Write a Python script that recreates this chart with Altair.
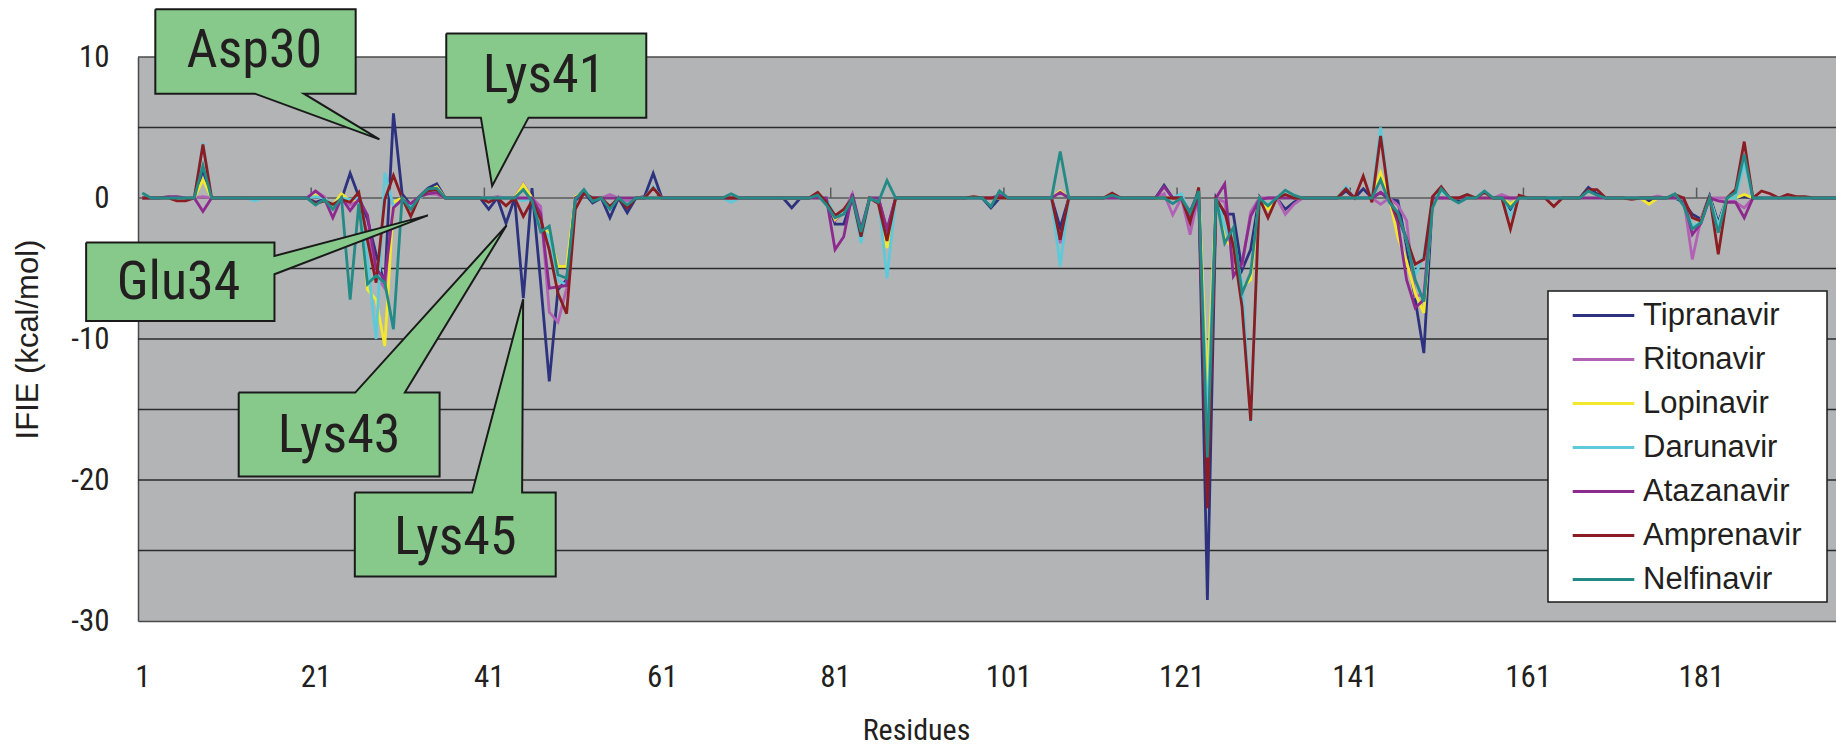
import altair as alt
import pandas as pd

# ---------------- data ----------------
RESIDUES = list(range(1, 199))
SERIES = ["Tipranavir", "Ritonavir", "Lopinavir", "Darunavir",
          "Atazanavir", "Amprenavir", "Nelfinavir"]
COLORS = ["#2D327E", "#B262B4", "#F3E82C", "#5ECAD9",
          "#8C2A8E", "#8A1C22", "#238A86"]

# IFIE (kcal/mol) per residue; residues not listed sit on the zero line
TIPRANAVIR = {8: 2.0, 21: -0.3, 22: -0.1, 23: -0.5, 24: -0.1, 25: 1.75, 26: 0.1, 27: -1.5,
              28: -4.0, 29: -6.1, 30: 6.0, 31: 0.3, 32: -0.5, 33: 0.1, 34: 0.7, 35: 1.0,
              41: -0.8, 43: -1.8, 45: -7.1, 46: 0.7, 47: -6.0, 48: -13.0, 49: -6.5,
              50: -5.8, 51: -0.2, 52: 0.4, 53: -0.35, 55: -1.4, 57: -1.05, 59: 0.1,
              60: 1.75, 76: -0.7, 81: -1.85, 82: -1.85, 84: -2.4, 87: -2.45, 99: -0.7,
              107: -2.1, 119: 0.9, 122: -1.0, 123: 0.5, 124: -28.5, 126: -1.15,
              127: -1.15, 128: -5.1, 129: -3.65, 130: 0.1, 131: -0.7, 133: -0.8,
              134: -0.3, 140: 0.5, 142: 0.65, 144: 0.4, 145: -0.1, 146: -0.2, 147: -3.4,
              148: -7.2, 149: -11.0, 151: 0.6, 153: -0.2, 159: -0.8, 168: 0.75, 169: 0.3,
              175: -0.2, 179: -0.3, 180: -1.15, 181: -1.5, 182: 0.15, 183: -1.75, 186: 0.1}
RITONAVIR = {8: 0.1, 21: 0.5, 22: 0.1, 23: -0.6, 25: -0.5, 26: -0.2, 27: -2.5, 28: -5.5,
             29: -6.4, 30: -0.6, 31: -0.2, 32: -0.5, 33: 0.1, 34: 0.3, 35: 0.25, 42: 0.1,
             45: 1.0, 47: -0.6, 48: -8.1, 49: -8.8, 50: -6.4, 51: 0.1, 52: 0.3, 55: 0.25,
             57: -0.2, 81: -1.6, 82: -1.0, 83: 0.3, 84: -2.6, 87: -2.3, 107: -3.2,
             119: 0.3, 120: -1.2, 122: -2.6, 123: 0.3, 124: -20.0, 126: -0.3, 127: -4.5,
             128: -4.8, 129: -1.0, 133: -1.15, 134: -0.45, 144: -0.45, 146: -0.5,
             147: -1.6, 148: -7.0, 149: -6.8, 158: 0.25, 176: 0.15, 180: -4.35,
             181: -1.5, 185: -0.3, 186: -0.7}
LOPINAVIR = {8: 1.3, 21: 0.2, 23: -0.5, 24: 0.3, 25: -0.2, 27: -6.5, 28: -7.2, 29: -10.5,
             30: -0.3, 32: -0.6, 33: 0.1, 34: 0.5, 35: 0.8, 45: 0.95, 47: -2.1, 48: -2.5,
             49: -4.85, 50: -4.85, 51: 0.1, 52: 0.4, 81: -1.5, 82: -1.0, 84: -2.5,
             87: -3.55, 107: 0.5, 122: -1.5, 123: 0.5, 124: -13.4, 126: -2.9, 127: -3.6,
             128: -6.3, 129: -5.8, 131: -0.8, 144: 1.8, 146: -2.8, 147: -4.5, 148: -6.75,
             149: -8.15, 151: 0.5, 159: -0.45, 175: -0.45, 180: -2.1, 181: -1.6,
             183: -2.0, 186: 0.25}
DARUNAVIR = {8: 3.9, 14: -0.2, 21: 0.1, 23: -0.5, 25: -0.1, 27: -4.4, 28: -10.0, 29: 1.8,
             30: -0.6, 31: -0.2, 32: -0.6, 34: 0.4, 35: 0.5, 45: -0.2, 47: -2.2, 48: -2.7,
             49: -5.8, 50: -6.2, 52: 0.4, 60: 0.8, 69: -0.3, 81: -1.3, 82: -1.0, 84: -3.2,
             87: -5.7, 107: -4.85, 121: 0.3, 122: -1.2, 123: 0.4, 124: -16.0, 126: -2.0,
             127: -3.5, 128: -6.0, 129: -15.9, 131: -0.5, 140: 0.8, 144: 5.0, 146: -1.5,
             147: -3.0, 148: -5.5, 149: -4.0, 151: 0.5, 154: 0.25, 156: 0.5, 159: -1.3,
             180: -2.0, 181: -1.7, 183: -2.0, 186: 2.5}
ATAZANAVIR = {4: 0.1, 5: 0.1, 8: -0.95, 21: 0.5, 23: -1.4, 25: -0.9, 26: -0.1, 27: -1.2,
              28: -5.0, 29: -5.8, 30: -0.7, 31: -0.1, 32: -0.4, 33: 0.1, 34: 0.3, 35: 0.4,
              47: -1.1, 48: -6.4, 49: -6.3, 50: -6.2, 52: 0.3, 81: -3.65, 82: -2.75,
              83: 0.3, 84: -2.2, 87: -2.2, 100: 0.2, 107: 0.4, 119: 0.8, 122: -1.5,
              124: -21.0, 126: 1.0, 127: -5.55, 128: -4.6, 129: -1.3, 130: -0.1, 144: 0.4,
              146: -1.75, 147: -5.8, 148: -7.8, 149: -7.2, 180: -2.6, 181: -1.8,
              183: -0.2, 184: -0.3, 185: -0.3, 186: -1.4}
AMPRENAVIR = {5: -0.2, 6: -0.2, 8: 3.8, 21: -0.4, 22: -0.2, 23: -0.45, 24: -0.1, 25: -0.3,
              26: 0.4, 27: -3.0, 28: -6.0, 29: -0.1, 30: 1.6, 32: -1.3, 33: 0.1, 34: 0.5,
              35: 0.6, 41: -0.3, 43: -0.55, 45: -1.3, 46: -0.2, 47: -1.5, 48: -3.7,
              49: -6.75, 50: -8.2, 51: -0.8, 52: 0.35, 55: -0.6, 57: -0.7, 60: 0.7,
              79: 0.4, 80: -0.3, 81: -1.25, 82: -0.8, 84: -2.75, 86: -0.4, 87: -3.05,
              97: 0.1, 107: -2.95, 113: 0.35, 122: -1.75, 123: 0.75, 124: -22.0,
              125: -0.1, 126: -1.0, 127: -3.4, 128: -7.7, 129: -15.8, 131: -1.4,
              133: 0.25, 140: 0.65, 142: 1.55, 143: -0.3, 144: 4.4, 145: -0.1, 146: -1.3,
              147: -2.9, 148: -4.7, 149: -4.35, 150: 0.1, 151: 0.8, 154: 0.25, 156: 0.4,
              159: -2.2, 160: 0.2, 164: -0.6, 168: 0.6, 169: 0.6, 173: -0.1, 178: 0.25,
              180: -1.4, 181: -1.65, 182: 0.15, 183: -4.0, 185: 0.6, 186: 4.0, 188: 0.5,
              189: 0.3, 191: 0.25, 192: 0.1, 193: 0.1}
NELFINAVIR = {1: 0.35, 8: 2.3, 21: -0.5, 22: -0.1, 23: -0.8, 25: -7.2, 26: -0.4, 27: -6.1,
              28: -5.5, 29: -6.0, 30: -9.3, 32: -0.8, 33: 0.1, 34: 0.65, 35: 0.7, 45: 0.6,
              46: -0.2, 47: -2.4, 48: -2.0, 49: -5.45, 50: -5.7, 51: -0.1, 52: 0.6,
              53: -0.25, 55: -0.8, 57: -0.5, 69: 0.3, 79: 0.2, 80: -0.5, 81: -1.4,
              82: -1.15, 84: -2.4, 86: -0.3, 87: 1.25, 99: -0.6, 100: 0.5, 107: 3.3,
              113: 0.2, 120: -0.4, 122: -1.05, 123: 0.5, 124: -18.4, 126: -3.2, 127: -2.1,
              128: -6.75, 129: -5.3, 131: -0.55, 133: 0.55, 134: 0.2, 144: 1.3, 145: -0.3,
              146: -1.05, 147: -2.95, 148: -5.8, 149: -7.35, 150: -0.7, 151: 0.65,
              153: -0.35, 156: 0.5, 159: -0.7, 168: 0.5, 169: 0.2, 178: 0.3, 179: -0.55,
              180: -2.2, 181: -1.75, 183: -2.45, 185: 0.4, 186: 3.1}
VALUES = [TIPRANAVIR, RITONAVIR, LOPINAVIR, DARUNAVIR, ATAZANAVIR, AMPRENAVIR, NELFINAVIR]

X_LABELS = [1, 21, 41, 61, 81, 101, 121, 141, 161, 181]
Y_LABELS = [-30, -20, -10, 0, 10]
GRID_Y = [5, -5, -10, -15, -20, -25]
CATEGORY_TICKS = [20.5, 40.5, 60.5, 80.5, 100.5, 120.5, 140.5, 160.5, 180.5]

# callouts (outline vertices in residue / IFIE units, label anchor)
CALLOUT_NAMES = ["Asp30", "Lys41", "Glu34", "Lys43", "Lys45"]
CALLOUT_OUTLINES = [
    [(2.5, 13.38), (25.64, 13.38), (25.64, 7.40), (19.66, 7.40), (28.38, 4.16), (14.0, 7.40), (2.5, 7.40)],
    [(36.1, 11.66), (59.2, 11.66), (59.2, 5.70), (45.6, 5.70), (41.4, 0.85), (40.1, 5.70), (36.1, 5.70)],
    [(-5.49, -3.16), (16.26, -3.16), (16.26, -4.11), (33.98, -1.23), (16.26, -5.41), (16.26, -8.72), (-5.49, -8.72)],
    [(12.13, -13.8), (25.59, -13.8), (43.07, -1.94), (31.32, -13.8), (35.33, -13.8), (35.33, -19.76), (12.13, -19.76)],
    [(25.54, -20.89), (39.09, -20.89), (44.98, -7.18), (44.86, -20.89), (48.74, -20.89), (48.74, -26.85), (25.54, -26.85)],
]
CALLOUT_TEXT_X = [13.94, 47.4, 5.18, 23.73, 37.14]
CALLOUT_TEXT_Y = [10.43, 8.65, -6.0, -16.88, -24.09]

# ---------------- build tables ----------------
rows = []
for name, vals in zip(SERIES, VALUES):
    for r in RESIDUES:
        rows.append({"series": name, "residue": r, "ifie": vals.get(r, 0.0)})
df = pd.DataFrame(rows)

poly_rows = []
for name, pts in zip(CALLOUT_NAMES, CALLOUT_OUTLINES):
    for i, (px, py) in enumerate(pts + [pts[0]]):
        poly_rows.append({"callout": name, "idx": i, "residue": px, "ifie": py})
poly_df = pd.DataFrame(poly_rows)
text_df = pd.DataFrame({"label": CALLOUT_NAMES, "residue": CALLOUT_TEXT_X, "ifie": CALLOUT_TEXT_Y})

FONT_C = "Liberation Sans Narrow, Arial Narrow, Roboto Condensed, Liberation Sans, sans-serif"
FONT_R = "Liberation Sans, Arial, sans-serif"
TEXT = "#231F20"
W, H = 1698, 564

xscale = alt.Scale(domain=[0.5, 0.5 + W / 8.659], nice=False, zero=False)
yscale = alt.Scale(domain=[-30, 10], nice=False, zero=False)
cscale = alt.Scale(domain=SERIES, range=COLORS)

x_axis = alt.Axis(values=X_LABELS, title="Residues", grid=False, ticks=False,
                  domain=True, domainColor="#4a4a4a", domainWidth=1.5,
                  labelFont=FONT_C, labelFontSize=31, labelColor=TEXT,
                  labelPadding=56, labelBaseline="middle", labelFlush=False,
                  titleFont=FONT_C, titleFontSize=30, titleFontWeight="normal",
                  titleColor=TEXT, titleX=778, titleY=109, titleAlign="center",
                  titleBaseline="middle")
y_axis = alt.Axis(values=Y_LABELS, title="IFIE (kcal/mol)", grid=False, ticks=False,
                  domain=True, domainColor="#4a4a4a", domainWidth=1.5,
                  labelFont=FONT_C, labelFontSize=31, labelColor=TEXT,
                  labelPadding=29, labelBaseline="middle",
                  labelExpr="'' + datum.value",
                  titleFont=FONT_R, titleFontSize=31, titleFontWeight="normal",
                  titleColor=TEXT, titleX=-110, titleY=H / 2, titleAngle=270,
                  titleAlign="center", titleBaseline="middle")

X = alt.X("residue:Q", scale=xscale, axis=x_axis)
Y = alt.Y("ifie:Q", scale=yscale, axis=y_axis)

grid = alt.Chart(pd.DataFrame({"ifie": GRID_Y})).mark_rule(
    color="#2b2b2b", strokeWidth=1.4).encode(y=Y)
top_border = alt.Chart(pd.DataFrame({"ifie": [10]})).mark_rule(
    color="#4a4a4a", strokeWidth=1.5).encode(y=Y)
zero_line = alt.Chart(pd.DataFrame({"ifie": [0]})).mark_rule(
    color="#5a5a5a", strokeWidth=1.5).encode(y=Y)
ticks = alt.Chart(pd.DataFrame({"residue": CATEGORY_TICKS,
                                "ifie": [0] * len(CATEGORY_TICKS),
                                "ifie2": [0.74] * len(CATEGORY_TICKS)})).mark_rule(
    color="#5a5a5a", strokeWidth=1.5).encode(x=X, y=Y, y2="ifie2:Q")

legend = alt.Legend(title=None, orient="none", legendX=1442, legendY=235,
                    direction="vertical", symbolType="M-1.4,0H1.4", symbolSize=1936,
                    symbolStrokeWidth=3, labelFont=FONT_R, labelFontSize=31,
                    labelColor=TEXT, labelOffset=16, rowPadding=5, padding=0,
                    labelLimit=400)

lines = []
for name in SERIES:
    lines.append(
        alt.Chart(df).transform_filter(alt.datum.series == name)
        .mark_line(strokeWidth=2.8, clip=True, strokeJoin="miter")
        .encode(x=X, y=Y, color=alt.Color("series:N", scale=cscale, legend=legend))
    )

legend_box = alt.Chart(pd.DataFrame({"k": [0]})).mark_rect(
    fill="white", stroke="#1a1a1a", strokeWidth=1.5).encode(
    x=alt.value(1410), x2=alt.value(1689), y=alt.value(234), y2=alt.value(545))

callouts = alt.Chart(poly_df).mark_line(
    fill="#86C98B", stroke="#1a1a1a", strokeWidth=2, clip=False, strokeJoin="miter"
).encode(x=X, y=Y, detail="callout:N", order="idx:Q")

callout_text = alt.Chart(text_df).mark_text(
    font=FONT_C, fontSize=54, color=TEXT, align="center", baseline="middle", clip=False
).encode(x=X, y=Y, text="label:N")

chart = alt.layer(grid, top_border, zero_line, ticks, *lines, legend_box, callouts,
                  callout_text).properties(
    width=W, height=H,
    autosize=alt.AutoSizeParams(type="none"),
    padding={"left": 138, "top": 57, "right": 0, "bottom": 127},
    background="white",
).configure_view(fill="#B3B4B6", stroke=None)

chart.save("out.html", embed_options={"renderer": "svg", "actions": False})
